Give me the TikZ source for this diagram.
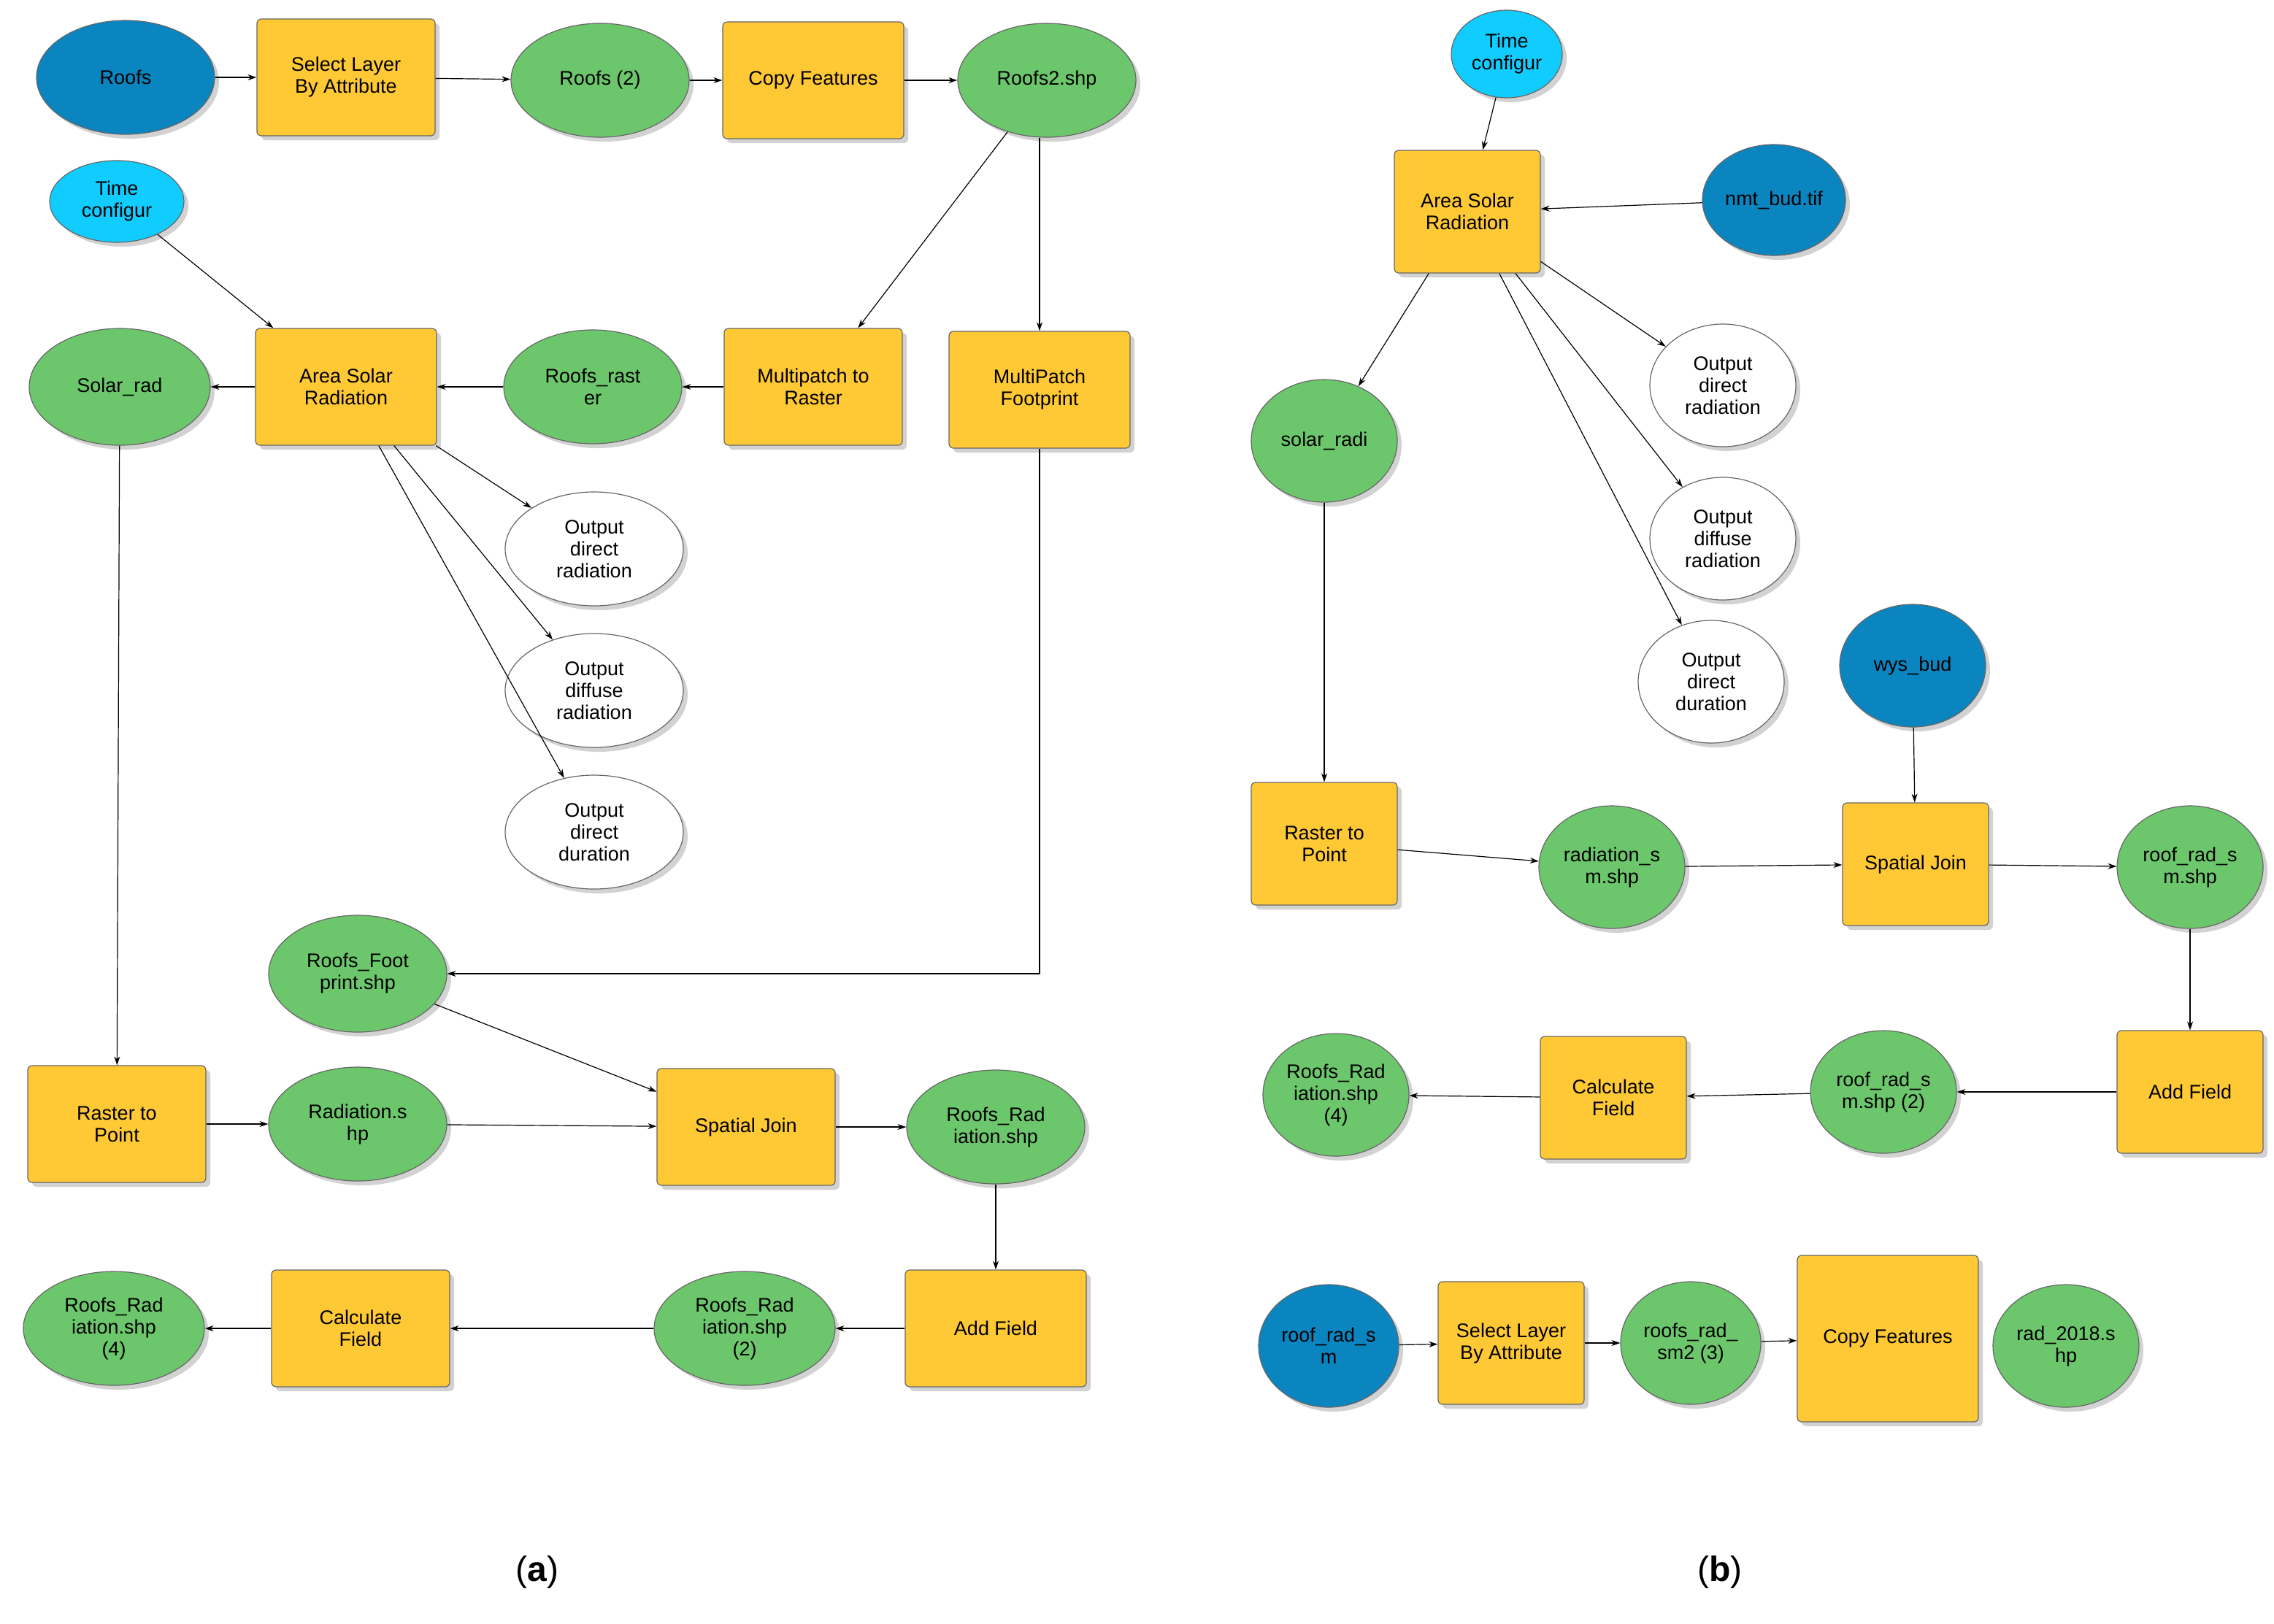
\documentclass[tikz,border=0pt]{standalone}
\usepackage{fontspec}
\setmainfont{Liberation Sans}
\usetikzlibrary{shapes.geometric,arrows.meta,shadows}
\definecolor{yel}{HTML}{FFC935}
\definecolor{grn}{HTML}{6CC76C}
\definecolor{dblue}{HTML}{0A85C0}
\definecolor{lblue}{HTML}{10CCFF}
\begin{document}
\begin{tikzpicture}[x=1pt,y=-1pt,
 base/.style={draw=black!60,line width=0.6pt,align=center,font=\fontsize{13.5}{15}\selectfont,inner sep=1pt,drop shadow={shadow xshift=3pt,shadow yshift=-3pt,fill=black!35}},
 tool/.style={base,rectangle,rounded corners=3pt,fill=yel,minimum width=122pt,minimum height=80pt},
 toolb/.style={tool,minimum width=100pt,minimum height=84pt},
 dat/.style={base,ellipse,fill=grn,minimum width=122pt,minimum height=78pt},
 datb/.style={dat,minimum width=100pt,minimum height=84pt},
 inp/.style={dat,fill=dblue},
 inpb/.style={datb,fill=dblue},
 tim/.style={dat,fill=lblue,minimum width=92pt,minimum height=56pt},
 outp/.style={dat,fill=white},
 outb/.style={datb,fill=white},
 ar/.style={-{Stealth[length=6pt,width=4pt]},line width=0.6pt}]
\useasboundingbox (0,0) rectangle (1557.5,1112);
% panel a
\node[inp] (roofs) at (86,53) {Roofs};
\node[tool] (sel) at (237,53) {Select Layer\\By Attribute};
\node[dat] (r2) at (411,55) {Roofs (2)};
\node[tool,minimum width=124pt] (cf) at (557,55) {Copy Features};
\node[dat] (r2s) at (717,55) {Roofs2.shp};
\node[tim] (tc) at (80,138) {Time\\configur};
\node[dat,minimum width=124pt,minimum height=80pt] (sr) at (82,265) {Solar\_rad};
\node[tool,minimum width=124pt] (asr) at (237,265) {Area Solar\\Radiation};
\node[dat] (rr) at (406,265) {Roofs\_rast\\er};
\node[tool] (mtr) at (557,265) {Multipatch to\\Raster};
\node[tool,minimum width=124pt] (mpf) at (712,267) {MultiPatch\\Footprint};
\node[outp] (o1) at (407,376) {Output\\direct\\radiation};
\node[outp] (o2) at (407,473) {Output\\diffuse\\radiation};
\node[outp] (o3) at (407,570) {Output\\direct\\duration};
\node[dat,minimum height=80pt] (rfp) at (245,667) {Roofs\_Foot\\print.shp};
\node[tool] (rtp) at (80,770) {Raster to\\Point};
\node[dat] (rad) at (245,770) {Radiation.s\\hp};
\node[tool] (sj) at (511,772) {Spatial Join};
\node[dat] (rrs) at (682,772) {Roofs\_Rad\\iation.shp};
\node[dat,minimum width=124pt] (r4) at (78,910) {Roofs\_Rad\\iation.shp\\(4)};
\node[tool] (cal) at (247,910) {Calculate\\Field};
\node[dat,minimum width=124pt] (rr2) at (510,910) {Roofs\_Rad\\iation.shp\\(2)};
\node[tool,minimum width=124pt] (af) at (682,910) {Add Field};
\draw[ar] (roofs)--(sel); \draw[ar] (sel)--(r2); \draw[ar] (r2)--(cf); \draw[ar] (cf)--(r2s);
\draw[ar] (r2s)--(mtr);
\draw[ar] (r2s.south -| mpf.north)--(mpf.north);
\draw[ar] (mtr)--(rr); \draw[ar] (rr)--(asr); \draw[ar] (asr)--(sr); \draw[ar] (tc)--(asr);
\draw[ar] (asr)--(o1); \draw[ar] (asr)--(o2); \draw[ar] (asr)--(o3);
\draw[ar] (sr)--(rtp);
\draw[ar] (mpf.south)--(mpf.south |- rfp.east)--(rfp.east);
\draw[ar] (rfp)--(sj); \draw[ar] (rtp)--(rad); \draw[ar] (rad)--(sj); \draw[ar] (sj)--(rrs);
\draw[ar] (rrs)--(af); \draw[ar] (af)--(rr2); \draw[ar] (rr2)--(cal); \draw[ar] (cal)--(r4);
% panel b
\node[tim,minimum width=76pt,minimum height=60pt] (tcb) at (1032,37) {Time\\configur};
\node[toolb] (asrb) at (1005,145) {Area Solar\\Radiation};
\node[inpb,minimum width=98pt,minimum height=76pt] (nmt) at (1215,137) {nmt\_bud.tif};
\node[outb] (p1) at (1180,264) {Output\\direct\\radiation};
\node[outb] (p2) at (1180,369) {Output\\diffuse\\radiation};
\node[outb] (p3) at (1172,467) {Output\\direct\\duration};
\node[datb] (sol) at (907,302) {solar\_radi};
\node[inpb] (wys) at (1310,456) {wys\_bud};
\node[toolb] (rtpb) at (907,578) {Raster to\\Point};
\node[datb] (rsm) at (1104,594) {radiation\_s\\m.shp};
\node[toolb] (sjb) at (1312,592) {Spatial Join};
\node[datb] (rrsm) at (1500,594) {roof\_rad\_s\\m.shp};
\node[toolb] (afb) at (1500,748) {Add Field};
\node[datb] (rrsm2) at (1290,748) {roof\_rad\_s\\m.shp (2)};
\node[toolb] (calb) at (1105,752) {Calculate\\Field};
\node[datb] (r4b) at (915,750) {Roofs\_Rad\\iation.shp\\(4)};
\node[inpb,minimum width=96pt] (rrm) at (910,922) {roof\_rad\_s\\m};
\node[toolb] (selb) at (1035,920) {Select Layer\\By Attribute};
\node[datb,minimum width=96pt] (rs3) at (1158,920) {roofs\_rad\_\\sm2 (3)};
\node[toolb,minimum width=124pt,minimum height=114pt] (cfb) at (1293,917) {Copy Features};
\node[datb] (r18) at (1415,922) {rad\_2018.s\\hp};
\draw[ar] (tcb)--(asrb); \draw[ar] (nmt)--(asrb); \draw[ar] (asrb)--(sol);
\draw[ar] (asrb)--(p1); \draw[ar] (asrb)--(p2); \draw[ar] (asrb)--(p3);
\draw[ar] (sol)--(rtpb); \draw[ar] (rtpb)--(rsm); \draw[ar] (rsm)--(sjb); \draw[ar] (wys)--(sjb);
\draw[ar] (sjb)--(rrsm); \draw[ar] (rrsm)--(afb); \draw[ar] (afb)--(rrsm2); \draw[ar] (rrsm2)--(calb);
\draw[ar] (calb)--(r4b);
\draw[ar] (rrm)--(selb); \draw[ar] (selb)--(rs3); \draw[ar] (rs3)--(cfb);
\node[font=\fontsize{24}{26}\selectfont\rmfamily] (ca) at (368,1077) {(\textbf{a})};
\node[font=\fontsize{24}{26}\selectfont\rmfamily] (cb) at (1178,1077) {(\textbf{b})};
\end{tikzpicture}
\end{document}
